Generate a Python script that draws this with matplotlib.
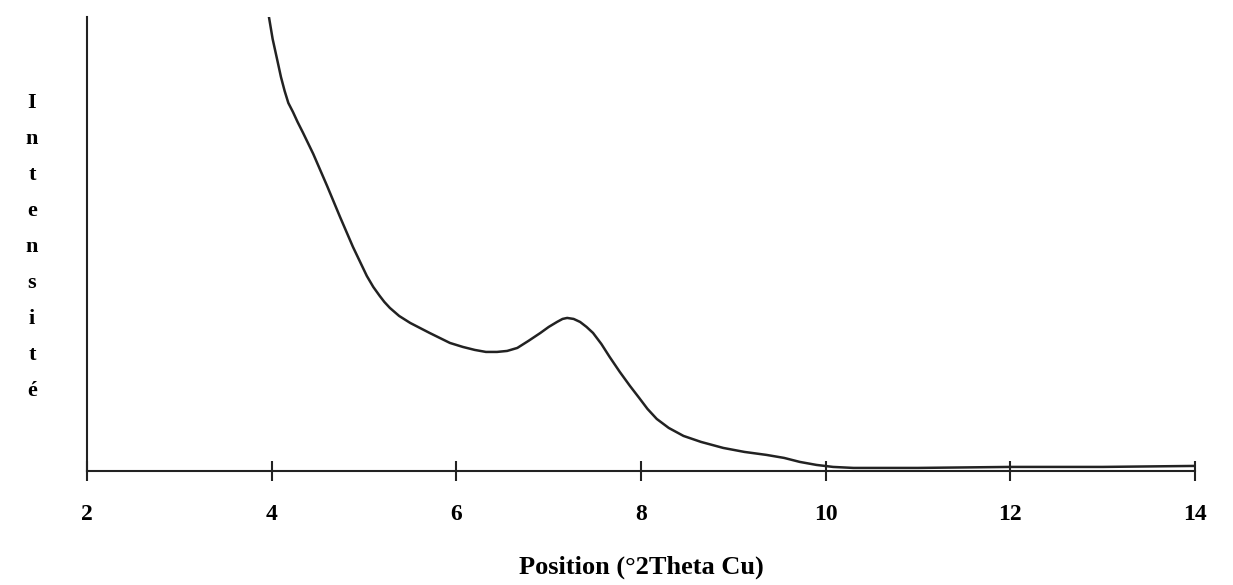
import matplotlib
matplotlib.use("Agg")
import matplotlib.pyplot as plt

# values (arbitrary intensity units)
two_theta = [3.97, 4.01, 4.06, 4.10, 4.14, 4.18, 4.23, 4.28, 4.34, 4.45, 4.60, 4.74,
             4.88, 5.03, 5.10, 5.17, 5.22, 5.28, 5.38, 5.50, 5.71, 5.93, 6.07, 6.20,
             6.32, 6.44, 6.55, 6.66, 6.78, 6.91, 7.00, 7.09, 7.15, 7.20, 7.27, 7.34,
             7.41, 7.48, 7.57, 7.66, 7.77, 7.88, 7.98, 8.07, 8.17, 8.30, 8.46, 8.65,
             8.89, 9.12, 9.36, 9.55, 9.72, 9.90, 10.08, 10.30, 10.60, 11.0, 12.0, 13.0,
             14.0]
intensity = [454, 432, 411, 394, 380, 368, 359, 349, 338, 317, 285, 254,
             224, 195, 184, 175, 169, 163, 155, 148, 138, 128, 124, 121,
             119, 119, 120, 123, 130, 138, 144, 149, 152, 153, 152, 149,
             144, 138, 127, 114, 99, 85, 73, 62, 52, 43, 35, 29,
             23, 19, 16, 13, 9, 6, 4, 3, 3, 3, 4, 4,
             5]

xticks = [2, 4, 6, 8, 10, 12, 14]
ylabel = "Intensité"
xlabel = "Position (°2Theta Cu)"

plt.rcParams['font.family'] = ['Liberation Serif', 'DejaVu Serif']

fig = plt.figure(figsize=(12.33, 5.85), dpi=100)
ax = fig.add_axes([0.0706, 0.195, 0.8986, 0.776])

ax.plot(two_theta, intensity, color='#222222', lw=1.8, solid_capstyle='round',
        solid_joinstyle='round')

ax.set_xlim(2, 14)
ax.set_ylim(0, 454)
ax.set_xticks(xticks)
ax.set_xticklabels([str(t) for t in xticks], fontsize=17, fontweight='bold')
ax.set_yticks([])

for s in ['top', 'right']:
    ax.spines[s].set_visible(False)
for s in ['left', 'bottom']:
    ax.spines[s].set_linewidth(1.5)
    ax.spines[s].set_color('#222222')

ax.tick_params(axis='x', direction='inout', length=14, width=1.5, color='#222222', pad=17)

ax.set_xlabel(xlabel, fontsize=19, fontweight='bold', labelpad=22)

# vertical stacked letters for the y label
for i, ch in enumerate(ylabel):
    fig.text(32 / 1233, 1 - (103 + 36 * i) / 585, ch, fontsize=16, fontweight='bold',
             ha='center', va='center')

fig.savefig("out.png", dpi=100)
